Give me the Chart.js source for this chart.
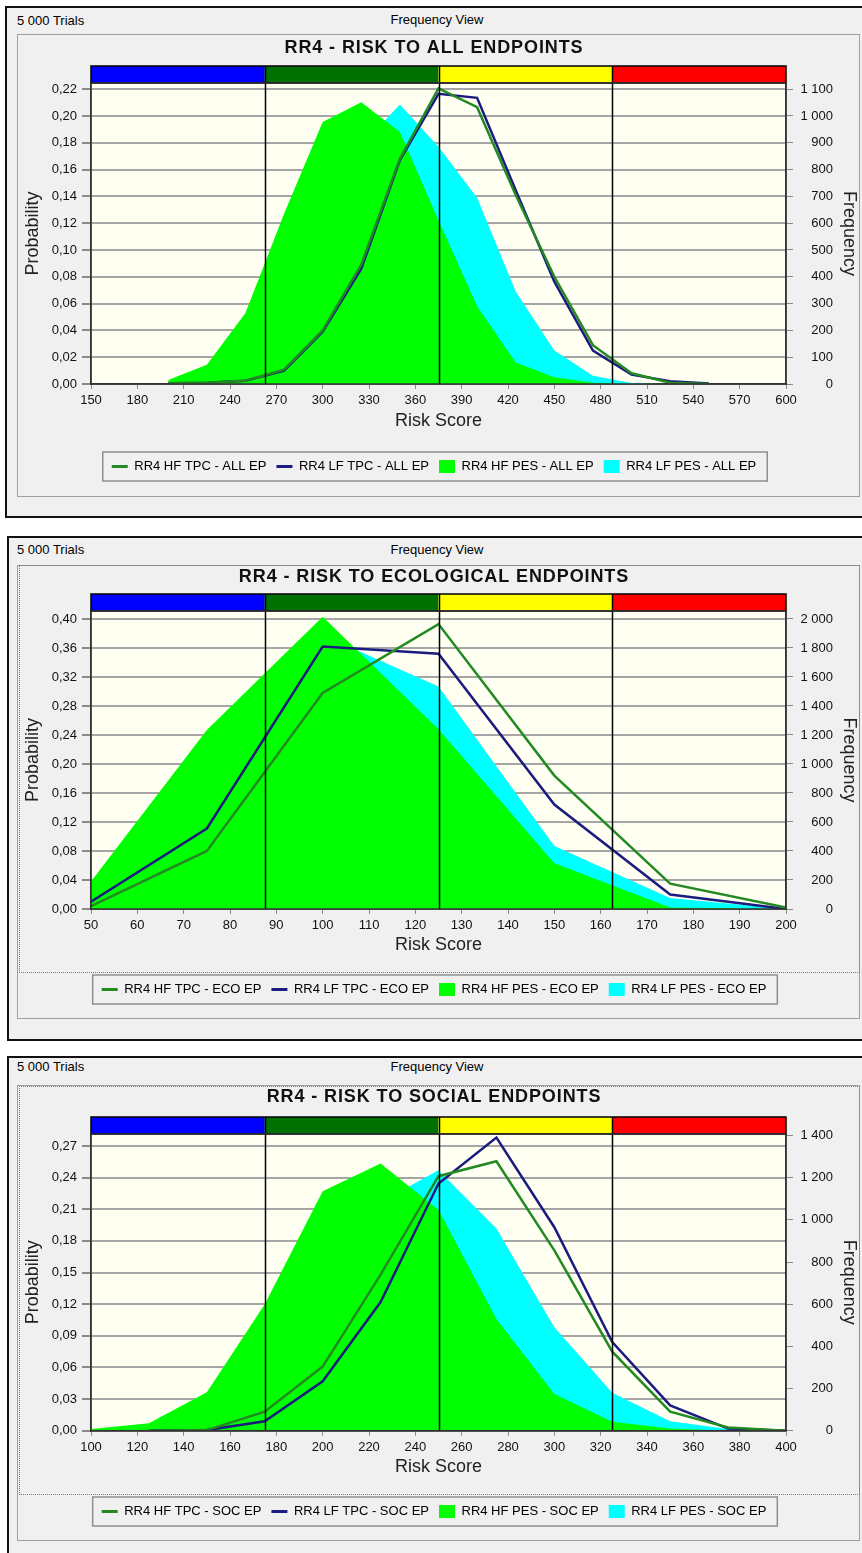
<!DOCTYPE html>
<html>
<head>
<meta charset="utf-8">
<script src="https://cdn.jsdelivr.net/npm/chart.js@4.4.1/dist/chart.umd.min.js"></script>
<style>
  body { margin: 0; background: #fff; width: 862px; height: 1553px; position: relative; overflow: hidden;
         font-family: "Liberation Sans", Arial, sans-serif; }
  .frame { position: absolute; width: 900px; border: 2px solid #111; background: #f0f0f0; box-sizing: border-box; }
  .grey { position: absolute; left: 17px; width: 843px; border: 1px solid #a0a0a0; box-sizing: border-box; }
  .dots { position: absolute; left: 19px; width: 841px; border: 1px dotted #7a7a7a; box-sizing: border-box; }
  .hdr { position: absolute; font-size: 13px; line-height: 16px; color: #000; white-space: nowrap; }
  .view { left: 337px; width: 200px; text-align: center; }
  canvas { position: absolute; left: 0; z-index: 2; }
</style>
</head>
<body>

<div class="frame" style="left:5px; top:6px; height:512px;"></div>
<div class="grey" style="top:34px; height:463px;"></div>
<div class="hdr" style="left:17px; top:13px;">5 000 Trials</div>
<div class="hdr view" style="top:12px;">Frequency View</div>
<canvas id="allChart" width="862" height="463" style="top:34px;"></canvas>

<div class="frame" style="left:7px; top:536px; height:505px;"></div>
<div class="grey" style="top:565px; height:454px;"></div>
<div class="dots" style="top:565px; height:408px;"></div>
<div class="hdr" style="left:17px; top:542px;">5 000 Trials</div>
<div class="hdr view" style="top:542px;">Frequency View</div>
<canvas id="ecoChart" width="862" height="445" style="top:565px;"></canvas>

<div class="frame" style="left:7px; top:1056px; height:520px;"></div>
<div class="grey" style="top:1085px; height:456px;"></div>
<div class="dots" style="top:1086px; height:409px;"></div>
<div class="hdr" style="left:17px; top:1059px;">5 000 Trials</div>
<div class="hdr view" style="top:1059px;">Frequency View</div>
<canvas id="socChart" width="862" height="445" style="top:1086px;"></canvas>

<script>
var allScores = [200, 225, 250, 275, 300, 325, 350, 375, 400, 425, 450, 475, 500, 525, 550];
var allHfTpc = [0.0005, 0.001, 0.0025, 0.0107, 0.040, 0.089, 0.168, 0.2205, 0.2066, 0.141, 0.080, 0.029, 0.008, 0.001, 0];
var allLfTpc = [0.0005, 0.001, 0.0025, 0.010, 0.039, 0.086, 0.167, 0.2165, 0.2135, 0.1446, 0.0764, 0.025, 0.007, 0.002, 0.0003];
var allHfPes = [0.003, 0.0144, 0.053, 0.127, 0.1955, 0.2103, 0.188, 0.122, 0.058, 0.016, 0.005, 0.001, 0, 0, 0];
var allLfPes = [0, 0.002, 0.010, 0.045, 0.115, 0.178, 0.2086, 0.177, 0.139, 0.069, 0.025, 0.0062, 0.0007, 0, 0];
var allCuts = [262.5, 375, 487.5];
var allProbTicks = [0, 0.02, 0.04, 0.06, 0.08, 0.10, 0.12, 0.14, 0.16, 0.18, 0.20, 0.22];
var allFreqTicks = [0, 100, 200, 300, 400, 500, 600, 700, 800, 900, 1000, 1100];

var ecoScores = [50, 75, 100, 125, 150, 175, 200];
var ecoHfTpc = [0.004, 0.080, 0.298, 0.393, 0.184, 0.035, 0.002];
var ecoLfTpc = [0.010, 0.111, 0.362, 0.352, 0.144, 0.020, 0];
var ecoHfPes = [0.038, 0.247, 0.403, 0.248, 0.063, 0.002, 0];
var ecoLfPes = [0.020, 0.160, 0.378, 0.307, 0.087, 0.015, 0];
var ecoCuts = [87.5, 125, 162.5];
var ecoProbTicks = [0, 0.04, 0.08, 0.12, 0.16, 0.20, 0.24, 0.28, 0.32, 0.36, 0.40];
var ecoFreqTicks = [0, 200, 400, 600, 800, 1000, 1200, 1400, 1600, 1800, 2000];

var socScores = [100, 125, 150, 175, 200, 225, 250, 275, 300, 325, 350, 375, 400];
var socHfTpc = [null, 0, 0.0006, 0.018, 0.0608, 0.148, 0.2414, 0.2556, 0.171, 0.075, 0.018, 0.003, 0];
var socLfTpc = [null, 0, 0.0006, 0.0089, 0.0469, 0.122, 0.2344, 0.278, 0.193, 0.084, 0.024, 0.002, 0];
var socHfPes = [0.0016, 0.007, 0.0364, 0.120, 0.227, 0.2534, 0.2094, 0.106, 0.0348, 0.0085, 0.002, 0, 0];
var socLfPes = [0, 0.001, 0.008, 0.040, 0.120, 0.217, 0.247, 0.1917, 0.098, 0.036, 0.009, 0.0016, 0];
var socCuts = [175, 250, 325];
var socProbTicks = [0, 0.03, 0.06, 0.09, 0.12, 0.15, 0.18, 0.21, 0.24, 0.27];
var socFreqTicks = [0, 200, 400, 600, 800, 1000, 1200, 1400];

var seriesNames = ['RR4 HF TPC', 'RR4 LF TPC', 'RR4 HF PES', 'RR4 LF PES'];
var bandColors = ['#0000ff', '#007000', '#ffff00', '#ff0000'];
var trials = 5000;

var HF_LINE = '#238a23';
var LF_LINE = '#1b1b80';
var HF_FILL = '#00ff00';
var LF_FILL = '#00ffff';
var BAND_H = 17;

Chart.defaults.font.family = '"Liberation Sans", Arial, sans-serif';
Chart.defaults.font.size = 13;
Chart.defaults.color = '#000';

function points(xs, ys) {
    return xs.map(function(x, i) { return {x: x, y: ys[i]}; });
}

function lineSet(label, xs, ys, color) {
    return {label: label, data: points(xs, ys), borderColor: color, backgroundColor: color,
            borderWidth: 2.5, pointRadius: 0, fill: false, tension: 0, isFill: false};
}

function fillSet(label, xs, ys, color) {
    return {label: label, data: points(xs, ys), borderColor: color, backgroundColor: color,
            borderWidth: 0, pointRadius: 0, fill: 'origin', tension: 0, isFill: true};
}

function tickList(values) {
    return function(scale) {
        scale.ticks = values.map(function(v) { return {value: v}; });
    };
}

function comma(v) {
    return v.toFixed(2).replace('.', ',');
}

function thousands(v) {
    v = Math.round(v);
    if (v < 1000) return String(v);
    return Math.floor(v / 1000) + ' ' + String(v % 1000).padStart(3, '0');
}

// ivory plot background, colour bands on top, threshold lines, frames
var bandPlugin = {
    id: 'bands',
    afterLayout: function(chart) {
        // the original title font runs a bit wider than Arial bold
        var t = chart.titleBlock;
        if (t && !t._spaced) {
            var draw = t.draw;
            t.draw = function() {
                chart.ctx.letterSpacing = '0.9px';
                draw.apply(this, arguments);
                chart.ctx.letterSpacing = '0px';
            };
            t._spaced = true;
        }
    },
    beforeDraw: function(chart) {
        var a = chart.chartArea, c = chart.ctx;
        c.save();
        c.fillStyle = '#fffff2';
        c.fillRect(a.left, a.top, a.width, a.height);
        c.restore();
    },
    afterDraw: function(chart, args, opts) {
        var a = chart.chartArea, c = chart.ctx, xs = chart.scales.x;
        var edges = [xs.min].concat(opts.cuts, [xs.max]).map(function(v) { return xs.getPixelForValue(v); });
        c.save();
        for (var i = 0; i < 4; i++) {
            c.fillStyle = bandColors[i];
            c.fillRect(edges[i], a.top - BAND_H, edges[i + 1] - edges[i], BAND_H);
        }
        c.strokeStyle = '#000';
        c.lineWidth = 1.5;
        c.strokeRect(a.left, a.top - BAND_H, a.width, BAND_H);
        for (i = 1; i < 4; i++) {
            c.beginPath();
            c.moveTo(Math.round(edges[i]) + 0.5, a.top - BAND_H);
            c.lineTo(Math.round(edges[i]) + 0.5, a.bottom);
            c.stroke();
        }
        c.strokeStyle = '#333';
        c.strokeRect(a.left, a.top, a.width, a.height);

        var boxes = chart.legend.legendHitBoxes;
        if (boxes && boxes.length) {
            var first = boxes[0], last = boxes[boxes.length - 1];
            c.strokeStyle = '#8e8e8e';
            c.lineWidth = 1.5;
            c.strokeRect(first.left - 9, first.top - 8, last.left + last.width - first.left + 20, first.height + 16);
        }
        c.restore();
    }
};

function makeChart(id, cfg) {
    var names = seriesNames.map(function(n) { return n + ' - ' + cfg.tag; });
    return new Chart(document.getElementById(id), {
        type: 'line',
        data: {
            datasets: [
                lineSet(names[0], cfg.scores, cfg.hfTpc, HF_LINE),
                lineSet(names[1], cfg.scores, cfg.lfTpc, LF_LINE),
                fillSet(names[2], cfg.scores, cfg.hfPes, HF_FILL),
                fillSet(names[3], cfg.scores, cfg.lfPes, LF_FILL)
            ]
        },
        options: {
            responsive: false,
            animation: false,
            devicePixelRatio: 1,
            // right padding leaves the frequency labels right-aligned at x=833
            layout: {padding: {left: 35, right: 29, top: 0, bottom: cfg.padBottom}},
            plugins: {
                tooltip: {enabled: false},
                bands: {cuts: cfg.cuts},
                title: {
                    display: true,
                    text: cfg.title,
                    color: '#111',
                    font: {size: 18, weight: 'bold'},
                    padding: {top: cfg.titlePad[0], bottom: cfg.titlePad[1]}
                },
                legend: {
                    position: 'bottom',
                    labels: {
                        usePointStyle: true,
                        pointStyleWidth: 16,
                        boxHeight: 13,
                        padding: 10,
                        color: '#000',
                        font: {size: 13},
                        generateLabels: function(chart) {
                            return chart.data.datasets.map(function(ds, i) {
                                return {
                                    text: ds.label,
                                    fillStyle: ds.backgroundColor,
                                    strokeStyle: ds.borderColor,
                                    lineWidth: ds.isFill ? 0 : 3,
                                    pointStyle: ds.isFill ? 'rect' : 'line',
                                    fontColor: '#000',
                                    hidden: false,
                                    datasetIndex: i
                                };
                            });
                        }
                    }
                }
            },
            scales: {
                x: {
                    type: 'linear',
                    min: cfg.xMin,
                    max: cfg.xMax,
                    afterFit: function(s) { s.height = cfg.xAxisH; },
                    grid: {drawOnChartArea: false, drawTicks: true, tickLength: 5, tickColor: '#8a8a8a'},
                    border: {color: '#333', width: 1.5},
                    ticks: {stepSize: cfg.xStep, padding: 4, maxRotation: 0, autoSkip: false, color: '#111'},
                    title: {display: true, text: 'Risk Score', color: '#222', font: {size: 18},
                            padding: {top: 0, bottom: cfg.riskPad}}
                },
                y: {
                    position: 'left',
                    min: 0,
                    max: cfg.yMax,
                    afterFit: function(s) { s.width = 56; },
                    afterBuildTicks: tickList(cfg.probTicks),
                    grid: {color: '#a6a6a6', lineWidth: 2, tickLength: 9, tickColor: '#8a8a8a'},
                    border: {color: '#333', width: 1.5},
                    ticks: {padding: 5, color: '#111', callback: comma},
                    title: {display: true, text: 'Probability', color: '#222', font: {size: 18},
                            padding: {top: -12.8, bottom: 0}}
                },
                freq: {
                    position: 'right',
                    min: 0,
                    max: cfg.yMax * trials,
                    afterFit: function(s) { s.width = 47; },
                    afterBuildTicks: tickList(cfg.freqTicks),
                    grid: {drawOnChartArea: false, tickLength: 7, tickColor: '#8a8a8a'},
                    border: {color: '#333', width: 1.5},
                    ticks: {padding: 7.5, crossAlign: 'far', color: '#111', callback: thousands},
                    title: {display: true, text: 'Frequency', color: '#222', font: {size: 18},
                            padding: {top: -26.3, bottom: 0}}
                }
            }
        },
        plugins: [bandPlugin]
    });
}

makeChart('allChart', {
    tag: 'ALL EP', title: 'RR4 - RISK TO ALL ENDPOINTS',
    scores: allScores, hfTpc: allHfTpc, lfTpc: allLfTpc, hfPes: allHfPes, lfPes: allLfPes, cuts: allCuts,
    probTicks: allProbTicks, freqTicks: allFreqTicks,
    xMin: 150, xMax: 600, xStep: 30, yMax: 0.2246,
    titlePad: [3.2, 24.2], xAxisH: 66, riskPad: 18.2, padBottom: 14
});

makeChart('ecoChart', {
    tag: 'ECO EP', title: 'RR4 - RISK TO ECOLOGICAL ENDPOINTS',
    scores: ecoScores, hfTpc: ecoHfTpc, lfTpc: ecoLfTpc, hfPes: ecoHfPes, lfPes: ecoLfPes, cuts: ecoCuts,
    probTicks: ecoProbTicks, freqTicks: ecoFreqTicks,
    xMin: 50, xMax: 200, xStep: 10, yMax: 0.411,
    titlePad: [0.9, 23.5], xAxisH: 64, riskPad: 17.2, padBottom: 4
});

makeChart('socChart', {
    tag: 'SOC EP', title: 'RR4 - RISK TO SOCIAL ENDPOINTS',
    scores: socScores, hfTpc: socHfTpc, lfTpc: socLfTpc, hfPes: socHfPes, lfPes: socLfPes, cuts: socCuts,
    probTicks: socProbTicks, freqTicks: socFreqTicks,
    xMin: 100, xMax: 400, xStep: 20, yMax: 0.2814,
    titlePad: [0.2, 26.2], xAxisH: 64.3, riskPad: 17.5, padBottom: 3
});
</script>
</body>
</html>
